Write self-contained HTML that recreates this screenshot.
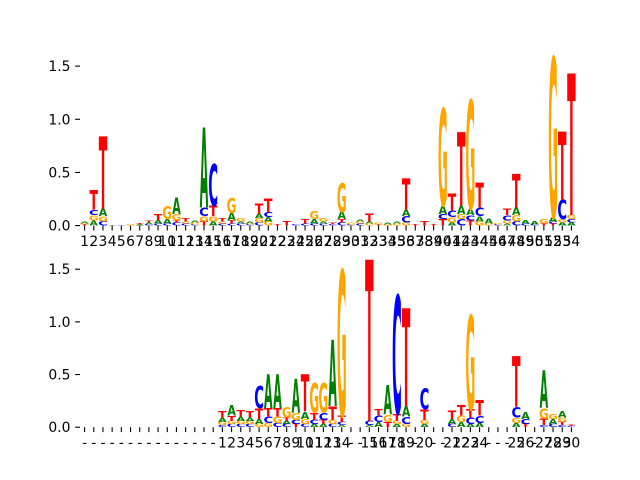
<!DOCTYPE html>
<html><head><meta charset="utf-8">
<style>
html,body{margin:0;padding:0;background:#fff;}
svg{display:block;font-family:"DejaVu Sans","Liberation Sans",sans-serif;}
</style></head>
<body>
<svg id="chart" width="640" height="480" viewBox="0 0 640 480">
<g id="top"></g>
<g id="bottom"></g>
</svg>
<script>
// ---- data ----
const topLabels = Array.from({length:54},(_,i)=>String(i+1));
const bottomLabels = ["-","-","-","-","-","-","-","-","-","-","-","-","-","-","-",
 "1","2","3","4","5","6","7","8","9","10","11","12","13","14",
 "-","-","15","16","17","18","19","-","20","-","-","21","22","23","24","-","-","-","25","26","-","27","28","29","30"];
const yTicks = [0, 0.5, 1.0, 1.5];
const yTickLabels = ["0.0","0.5","1.0","1.5"];
// each stack: [[letter, height], ...] from bottom to top
const topStacks = [
 [["T",.01],["G",.01],["A",.02]],
 [["A",.05],["G",.05],["C",.05],["T",.18]],
 [["C",.04],["G",.05],["A",.07],["T",.68]],
 [["A",.005]],[["C",.005]],[["G",.01]],
 [["A",.01],["T",.01]],
 [["C",.01],["A",.02],["T",.02]],
 [["C",.02],["A",.03],["T",.06]],
 [["C",.02],["A",.04],["G",.12]],
 [["C",.03],["T",.02],["G",.06],["A",.15]],
 [["C",.02],["G",.02],["T",.03]],
 [["C",.01],["G",.02],["A",.02]],
 [["T",.04],["G",.05],["C",.08],["A",.75]],
 [["A",.04],["G",.05],["T",.1],["C",.39]],
 [["C",.02],["G",.02],["T",.03]],
 [["C",.02],["T",.03],["A",.07],["G",.14]],
 [["C",.02],["A",.02],["G",.03]],
 [["C",.01],["G",.01],["A",.02]],
 [["C",.03],["G",.04],["A",.04],["T",.1]],
 [["G",.04],["A",.04],["C",.05],["T",.13]],
 [["T",.01]],[["T",.04]],[["C",.01]],
 [["C",.02],["T",.04]],
 [["C",.02],["A",.04],["G",.07]],
 [["C",.02],["A",.02],["G",.03]],
 [["C",.01],["T",.02]],
 [["C",.03],["T",.03],["A",.07],["G",.27]],
 [["C",.01],["G",.02]],
 [["C",.02],["G",.02],["A",.02]],
 [["G",.02],["A",.02],["T",.07]],
 [["T",.01],["G",.02]],
 [["G",.01],["A",.02]],
 [["G",.02],["A",.02]],
 [["G",.03],["C",.06],["A",.06],["T",.29]],
 [["T",.01]],
 [["T",.04]],
 [["T",.01]],
 [["T",.06],["C",.05],["A",.08],["G",.91]],
 [["A",.03],["G",.05],["C",.06],["T",.16]],
 [["C",.06],["G",.05],["A",.08],["T",.69]],
 [["T",.05],["C",.05],["A",.06],["G",1.02]],
 [["G",.04],["A",.05],["C",.08],["T",.23]],
 [["G",.02],["A",.05]],
 [["C",.01],["G",.01]],
 [["A",.02],["G",.03],["C",.05],["T",.06]],
 [["C",.04],["G",.06],["A",.07],["T",.32]],
 [["C",.02],["A",.03]],
 [["C",.01],["A",.03]],
 [["T",.02],["G",.04]],
 [["T",.02],["C",.02],["A",.04],["G",1.5]],
 [["A",.03],["G",.03],["C",.18],["T",.64]],
 [["A",.03],["C",.03],["G",.04],["T",1.33]]
];
const bottomStacks = [
 [],[],[],[],[],[],[],[],[],[],[],[],[],[],[],
 [["C",.02],["G",.03],["A",.04],["T",.06]],
 [["C",.03],["G",.03],["T",.05],["A",.1]],
 [["C",.03],["G",.03],["A",.04],["T",.06]],
 [["C",.03],["G",.03],["A",.03],["T",.06]],
 [["G",.03],["A",.05],["T",.1],["C",.21]],
 [["G",.04],["C",.06],["T",.08],["A",.32]],
 [["C",.04],["G",.06],["T",.08],["A",.32]],
 [["C",.03],["A",.03],["T",.03],["G",.1]],
 [["T",.03],["C",.04],["G",.07],["A",.32]],
 [["C",.03],["G",.05],["A",.07],["T",.35]],
 [["A",.03],["C",.04],["T",.07],["G",.28]],
 [["A",.03],["T",.04],["C",.07],["G",.28]],
 [["C",.03],["G",.04],["T",.13],["A",.63]],
 [["A",.02],["C",.03],["T",.06],["G",1.38]],
 [],[],
 [["A",.02],["C",.04],["T",1.53]],
 [["A",.05],["C",.06],["T",.06]],
 [["T",.05],["G",.07],["A",.28]],
 [["A",.03],["G",.03],["T",.07],["C",1.12]],
 [["G",.03],["C",.07],["A",.1],["T",.93]],
 [],
 [["A",.03],["G",.04],["T",.1],["C",.2]],
 [],[],
 [["C",.03],["A",.05],["T",.08]],
 [["A",.05],["G",.06],["T",.1]],
 [["A",.03],["C",.06],["T",.08],["G",.89]],
 [["A",.04],["C",.07],["T",.15]],
 [],[],[],
 [["A",.04],["G",.05],["C",.1],["T",.48]],
 [["T",.03],["C",.05],["A",.07]],
 [],
 [["C",.02],["T",.06],["G",.1],["A",.36]],
 [["C",.03],["A",.05],["G",.05]],
 [["C",.02],["T",.03],["G",.04],["A",.06]],
 [["C",.01],["T",.01]]
];
// ---- drawing ----
const NS="http://www.w3.org/2000/svg";
const colors={A:"#008000",C:"#0000ff",G:"#ffa500",T:"#ff0000"};
const inkW={A:.77,C:.64,G:.71,T:.68};
const L=80,R=576;
function mk(tag,parent,attrs){const e=document.createElementNS(NS,tag);for(const k in attrs)e.setAttribute(k,attrs[k]);parent.appendChild(e);return e;}
function panel(g,stacks,labels,yTop,yBot,ymax){
  const n=stacks.length, step=(R-L)/n;
  const xs=i=>L+step*(i+0.5);
  const ys=v=>yBot-(v/ymax)*(yBot-yTop);
  yTicks.forEach((t,k)=>{
    const y=ys(t);
    const tk=mk("line",g,{x1:L-4.9,x2:L,y1:y,y2:y,stroke:"#000","stroke-width":1.1});
    
    
    const tl=mk("text",g,{x:L-9.5,y:y+5,"font-size":13.9,"text-anchor":"end",fill:"#000"});
    tl.textContent=yTickLabels[k];
    
    
  });
  labels.forEach((lab,i)=>{
    const x=xs(i);
    const tk=mk("line",g,{x1:x,x2:x,y1:yBot,y2:yBot+4.9,stroke:"#000","stroke-width":1.1});
    
    
    const tl=mk("text",g,{x:x,y:yBot+20.5,"font-size":13.9,"text-anchor":"middle",fill:"#000"});
    tl.textContent=lab;
    
    
  });
  const w=step*0.92;
  stacks.forEach((st,i)=>{
    let acc=0;
    st.forEach(([ch,h])=>{
      const y0=ys(acc), y1=ys(acc+h); acc+=h;
      const hp=y0-y1; if(hp<=0.05) return;
      const sx=w/(inkW[ch]*100), sy=hp/(72.9);
      const t=mk("text",g,{x:0,y:0,"font-size":100,"font-weight":"bold","text-anchor":"middle",fill:colors[ch],
        transform:`translate(${xs(i)},${y0}) scale(${sx},${sy})`});
      t.textContent=ch;
      
      
    });
  });
}
panel(document.getElementById("top"),topStacks,topLabels,57.6,225.6,1.58);
panel(document.getElementById("bottom"),bottomStacks,bottomLabels,259.2,427.2,1.595);
</script>
</body></html>
